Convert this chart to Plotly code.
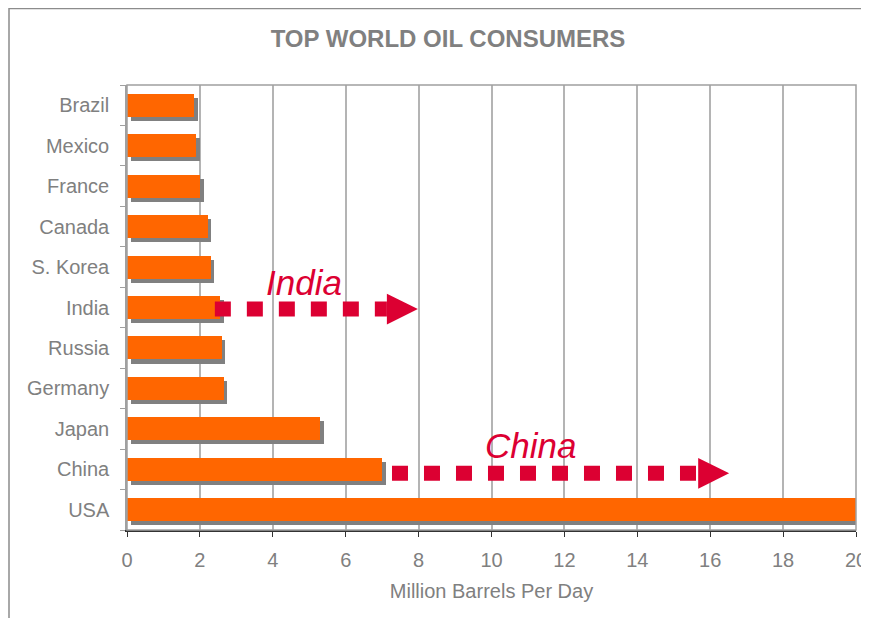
import plotly.graph_objects as go

countries = ["USA", "China", "Japan", "Germany", "Russia", "India",
             "S. Korea", "Canada", "France", "Mexico", "Brazil"]
consumption = [20.7, 7.0, 5.3, 2.65, 2.6, 2.55, 2.3, 2.21, 2.0, 1.89, 1.84]

arrow_names = ["India", "China"]
arrow_start = [2.41, 7.27]
arrow_end = [7.98, 16.52]
arrow_label_x = [4.86, 11.08]

x_ticks = [0, 2, 4, 6, 8, 10, 12, 14, 16, 18, 20]

RED = "#DC0032"
ORANGE = "#FF6600"
GREY = "#808080"
FONT = "Liberation Sans, Arial, sans-serif"

ypos = list(range(len(countries)))
shadow_dx = 0.1
shadow_dy = 0.1

# the figure div sits 8px in from the page corner (browser body margin);
# keep it small enough that the page does not scroll
OFF = 8
W, H = 869 - OFF, 628 - 2 * OFF - 2
ML, MR, MT, MB = 127 - OFF, W - (856 - OFF), 85 - OFF, H - (530 - OFF)
PW = W - ML - MR
PH = H - MT - MB

fig = go.Figure()
fig.add_trace(go.Bar(
    y=[p - shadow_dy for p in ypos], x=consumption, base=shadow_dx,
    orientation="h", width=0.57, marker=dict(color=GREY, line=dict(width=0)),
    hoverinfo="skip", showlegend=False))
fig.add_trace(go.Bar(
    y=ypos, x=consumption, orientation="h", width=0.57,
    marker=dict(color=ORANGE, line=dict(width=0)),
    showlegend=False, name="Consumption"))

head_w = 0.85
head_h = 0.38
offsets = {"India": -0.04, "China": -0.1}
label_dy = {"India": 0.62, "China": 0.58}
for name, xs, xe, lx in zip(arrow_names, arrow_start, arrow_end, arrow_label_x):
    yc = countries.index(name) + offsets[name]
    base = xe - head_w
    fig.add_trace(go.Scatter(
        x=[xs, base], y=[yc, yc], mode="lines",
        line=dict(color=RED, width=15, dash="16px,16px"),
        hoverinfo="skip", showlegend=False))
    fig.add_trace(go.Scatter(
        x=[base, xe, base, base], y=[yc - head_h, yc, yc + head_h, yc - head_h],
        mode="lines", fill="toself", fillcolor=RED, line=dict(color=RED, width=0),
        hoverinfo="skip", showlegend=False))
    fig.add_annotation(x=lx, y=countries.index(name) + label_dy[name],
                       text="<i>" + name + "</i>", showarrow=False, xref="x", yref="y",
                       font=dict(family=FONT, size=35, color=RED),
                       xanchor="center", yanchor="middle")

fig.update_layout(
    width=W, height=H,
    margin=dict(l=ML, r=MR, t=MT, b=MB, autoexpand=False),
    paper_bgcolor="white", plot_bgcolor="white",
    bargap=0, barmode="overlay",
    title=dict(text="<b>TOP WORLD OIL CONSUMERS</b>", x=(448 - OFF) / W, xref="container",
               y=1 - (39 - OFF) / H, yref="container", xanchor="center", yanchor="middle",
               font=dict(family=FONT, size=24, color=GREY)),
    font=dict(family=FONT, color=GREY),
)
fig.update_xaxes(
    automargin=False,
    range=[0, 20], tickvals=x_ticks, ticktext=[str(t) for t in x_ticks],
    showgrid=True, gridcolor="#B4B4B4", gridwidth=1.5,
    showline=True, linecolor="#333333", linewidth=1.5,
    ticks="outside", ticklen=5, tickcolor="#333333",
    tickfont=dict(size=20, color=GREY), ticklabelstandoff=6,
    zeroline=False,
    title=dict(text="Million Barrels Per Day", font=dict(size=20, color=GREY), standoff=14),
)
fig.update_yaxes(
    automargin=False,
    range=[-0.5, len(countries) - 0.5], tickvals=ypos, ticktext=countries,
    showgrid=False, zeroline=False,
    showline=True, linecolor="#A0A0A0", linewidth=1.5,
    ticks="", tickfont=dict(size=20, color=GREY), ticklabelstandoff=12,
    minor=dict(tick0=0.5, dtick=1, ticks="outside", ticklen=5, tickcolor="#A0A0A0"),
)
fig.add_shape(type="rect", xref="x domain", yref="y domain", x0=0, x1=1, y0=0, y1=1,
              line=dict(color="#A0A0A0", width=1.5), layer="above")
# outer chart border (page pixels: x 9..866, top at the upper edge, bottom below the view)
fig.add_shape(type="rect", xref="paper", yref="paper",
              x0=(9 - 127) / PW, x1=(866 - 127) / PW,
              y0=-(660 - 530) / PH, y1=(530 - OFF - 0.5) / PH,
              line=dict(color="#8C8C8C", width=1.5))

fig.write_html("out.html")
